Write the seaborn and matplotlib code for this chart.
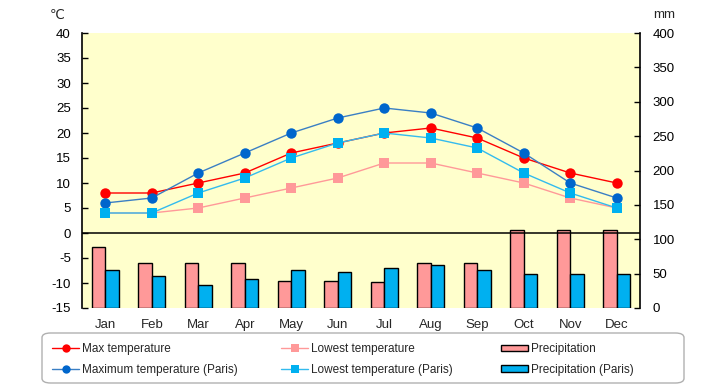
import numpy as np
import pandas as pd
import matplotlib
matplotlib.use("Agg")
import matplotlib.pyplot as plt
from matplotlib.patches import FancyBboxPatch, Patch
from matplotlib.lines import Line2D
import seaborn as sns

months = ["Jan", "Feb", "Mar", "Apr", "May", "Jun",
          "Jul", "Aug", "Sep", "Oct", "Nov", "Dec"]
max_temp = [8, 8, 10, 12, 16, 18, 20, 21, 19, 15, 12, 10]
low_temp = [4, 4, 5, 7, 9, 11, 14, 14, 12, 10, 7, 5]
paris_max = [6, 7, 12, 16, 20, 23, 25, 24, 21, 16, 10, 7]
paris_low = [4, 4, 8, 11, 15, 18, 20, 19, 17, 12, 8, 5]
precip = [89, 65, 65, 65, 39, 39, 38, 65, 65, 114, 114, 114]
paris_precip = [55, 46, 34, 42, 56, 53, 58, 63, 55, 49, 50, 49]

sns.set_style("white")
plt.rcParams['font.family'] = ['Liberation Sans Narrow', 'Liberation Sans', 'DejaVu Sans']
plt.rcParams['axes.unicode_minus'] = False
plt.rcParams['ytick.direction'] = 'in'

fig = plt.figure(figsize=(7.2, 3.85), dpi=100)
ax1 = fig.add_axes([82 / 720, 1 - 308 / 385, 558 / 720, 275 / 385])
ax2 = ax1.twinx()

bars = pd.DataFrame({
    "pos": list(range(12)) * 2,
    "mm": precip + paris_precip,
    "series": ["Precipitation"] * 12 + ["Precipitation (Paris)"] * 12,
})
sns.barplot(data=bars, x="pos", y="mm", hue="series",
            palette=["#FF9999", "#00B0F0"], edgecolor="black", linewidth=1,
            width=0.58, saturation=1, legend=False, ax=ax2)

pos = np.arange(len(months))
line_specs = [
    (max_temp, "#FF0000", "#FF0000", "o"),
    (low_temp, "#FF9999", "#FF9999", "s"),
    (paris_max, "#3A7FC4", "#0066CC", "o"),
    (paris_low, "#33BBEE", "#00B0F0", "s"),
]
for vals, lc, mc, mk in line_specs:
    sns.lineplot(x=pos, y=vals, color=lc, lw=1.0, marker=mk, markersize=7.5,
                 markerfacecolor=mc, markeredgewidth=0, ax=ax1)

ax1.axhline(0, color="black", lw=1.1)

ax1.set_zorder(ax2.get_zorder() + 1)
ax1.patch.set_visible(False)
ax2.patch.set_visible(True)
ax2.set_facecolor("#FFFFCC")

ax1.set_xlim(-0.5, 11.5)
ax2.set_xlim(-0.5, 11.5)
ax1.set_ylim(-15, 40)
ax1.set_yticks(range(-15, 41, 5))
ax2.set_ylim(0, 400)
ax2.set_yticks(range(0, 401, 50))
ax1.set_xticks(pos)
ax1.set_xticklabels(months)
for ax in (ax1, ax2):
    ax.set_xlabel("")
    ax.set_ylabel("")
    ax.spines["top"].set_visible(False)
    ax.spines["bottom"].set_visible(False)
    ax.spines["left"].set_color("black")
    ax.spines["right"].set_color("black")
    ax.spines["left"].set_linewidth(1.2)
    ax.spines["right"].set_linewidth(1.2)
ax1.spines["right"].set_visible(False)
ax2.spines["left"].set_visible(False)

ax1.tick_params(axis="y", which="both", direction="in", length=4, width=1, pad=8,
                labelsize=9.5, left=True, right=False, colors="black")
ax1.tick_params(axis="x", length=0, pad=8, labelsize=9.5)
ax2.tick_params(axis="y", which="both", direction="in", length=4, width=1, pad=9,
                labelsize=9.5, right=True, left=False, colors="black")
ax2.tick_params(axis="x", bottom=False, labelbottom=False)

fig.text(57 / 720, 1 - 15 / 385, "℃", ha="center", va="center", fontsize=9.5,
         family=["DejaVu Sans"])
fig.text(664 / 720, 1 - 15 / 385, "mm", ha="center", va="center", fontsize=9.5)

box = FancyBboxPatch((42 / 720, 1 - 383 / 385), 642 / 720, 50 / 385,
                     boxstyle="round,pad=0,rounding_size=0.012",
                     transform=fig.transFigure, facecolor="white",
                     edgecolor="#B0B0B0", lw=1)
fig.patches.append(box)


def line_handle(lc, mc, mk):
    return Line2D([], [], color=lc, lw=1.0, marker=mk, markersize=6,
                  markerfacecolor=mc, markeredgewidth=0)


groups = [
    (52, [line_handle("#FF0000", "#FF0000", "o"), line_handle("#3A7FC4", "#0066CC", "o")],
     ["Max temperature", "Maximum temperature (Paris)"]),
    (281, [line_handle("#FF9999", "#FF9999", "s"), line_handle("#33BBEE", "#00B0F0", "s")],
     ["Lowest temperature", "Lowest temperature (Paris)"]),
    (501, [Patch(facecolor="#FF9999", edgecolor="black", lw=1),
           Patch(facecolor="#00B0F0", edgecolor="black", lw=1)],
     ["Precipitation", "Precipitation (Paris)"]),
]
for x0, handles, labels in groups:
    fig.legend(handles, labels, loc="center left",
               bbox_to_anchor=(x0 / 720, 1 - 359.5 / 385),
               frameon=False, fontsize=8.5, borderpad=0, borderaxespad=0,
               handlelength=2.3, handletextpad=0.2, labelspacing=0.75,
               handleheight=0.5)

fig.savefig("out.png", dpi=100)
